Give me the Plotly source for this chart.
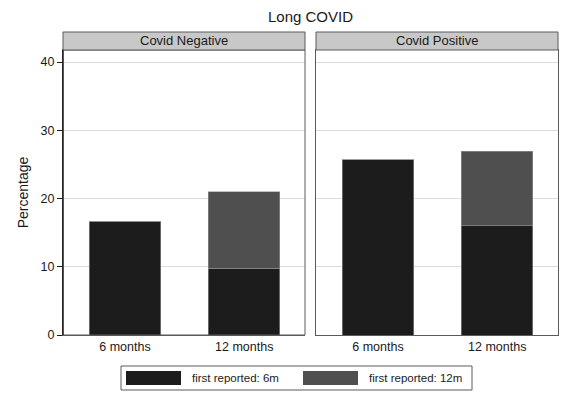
import plotly.graph_objects as go

categories = ["6 months", "12 months"]
panels = ["Covid Negative", "Covid Positive"]
series_names = ["first reported: 6m", "first reported: 12m"]
neg_first6 = [16.7, 9.8]
neg_first12 = [0, 11.2]
pos_first6 = [25.7, 16.0]
pos_first12 = [0, 10.9]
y_ticks = [0, 10, 20, 30, 40]
colors = ["#1c1c1c", "#4f4f4f"]

W, H = 565, 393
ml, mr, mt, mb = 63, 7, 50, 58
pw = W - ml - mr
ph = H - mt - mb

fig = go.Figure()
data = [(neg_first6, neg_first12), (pos_first6, pos_first12)]
for i, (s6, s12) in enumerate(data):
    xa = "x" if i == 0 else "x2"
    ya = "y" if i == 0 else "y2"
    for j, vals in enumerate([s6, s12]):
        fig.add_trace(go.Bar(
            x=categories, y=vals, name=series_names[j], xaxis=xa, yaxis=ya,
            marker=dict(color=colors[j], line=dict(color="#9a9a9a", width=0.6)),
            width=0.6, showlegend=False,
        ))

d1 = [0, (305 - ml) / pw]
d2 = [(316 - ml) / pw, 1]
font = "Liberation Sans, Arial, sans-serif"
axis_common = dict(showline=True, linecolor="#5a5a5a", linewidth=1, mirror=True)
fig.update_layout(
    width=W, height=H, barmode="stack",
    margin=dict(l=ml, r=mr, t=mt, b=mb),
    paper_bgcolor="white", plot_bgcolor="white",
    font=dict(family=font, color="#1a1a1a", size=12),
    title=dict(text="Long COVID", x=(ml + pw / 2) / W, xanchor="center", y=1 - 17 / H, yanchor="middle",
               font=dict(size=15, color="#1a1a1a")),
    xaxis=dict(domain=d1, range=[-0.52, 1.51], ticks="", tickfont=dict(size=12.5), **axis_common),
    xaxis2=dict(domain=d2, range=[-0.52, 1.51], ticks="", tickfont=dict(size=12.5), anchor="y2", **axis_common),
    yaxis=dict(range=[0, 41.76], tickvals=y_ticks, ticks="outside", ticklen=5, tickcolor="#1a1a1a",
               showgrid=True, gridcolor="#dcdcdc", gridwidth=1, zeroline=False,
               tickfont=dict(size=12.5), title=dict(text="Percentage", font=dict(size=14), standoff=8),
               showline=True, linecolor="#1a1a1a", linewidth=1, mirror=False),
    yaxis2=dict(range=[0, 41.76], tickvals=y_ticks, showticklabels=False, ticks="",
                showgrid=True, gridcolor="#dcdcdc", gridwidth=1, zeroline=False,
                anchor="x2", **axis_common),
)

fig.add_shape(type="rect", xref="paper", yref="paper", x0=d1[0], x1=d1[1], y0=0, y1=1,
              line=dict(color="#5a5a5a", width=1), fillcolor="rgba(0,0,0,0)", layer="above")
fig.add_shape(type="line", xref="paper", yref="paper", x0=0, x1=0, y0=0, y1=1,
              line=dict(color="#1a1a1a", width=1.2), layer="above")

strip_top = 1 + 18 / ph
for d, label in zip([d1, d2], panels):
    fig.add_shape(type="rect", xref="paper", yref="paper", x0=d[0], x1=d[1], y0=1, y1=strip_top,
                  line=dict(color="#5a5a5a", width=1), fillcolor="#c8c8c8")
    fig.add_annotation(xref="paper", yref="paper", x=(d[0] + d[1]) / 2, y=(1 + strip_top) / 2,
                       text=label, showarrow=False, font=dict(size=13, color="#1a1a1a"),
                       xanchor="center", yanchor="middle")

def px_x(v):
    return (v - ml) / pw

def px_y(v):
    return (H - mb - v) / ph

fig.add_shape(type="rect", xref="paper", yref="paper", x0=px_x(121), x1=px_x(472), y0=px_y(366), y1=px_y(390),
              line=dict(color="#5a5a5a", width=1), fillcolor="white")
sym_x = [126, 303]
txt_x = [190, 367]
for j in range(2):
    fig.add_shape(type="rect", xref="paper", yref="paper", x0=px_x(sym_x[j]), x1=px_x(sym_x[j] + 55),
                  y0=px_y(371), y1=px_y(385), line=dict(width=0), fillcolor=colors[j])
    fig.add_annotation(xref="paper", yref="paper", x=px_x(txt_x[j]), y=px_y(378), text=series_names[j],
                       showarrow=False, xanchor="left", yanchor="middle", font=dict(size=11.5, color="#1a1a1a"))

fig.write_html("out.html", config={"displayModeBar": False},
               post_script="document.body.style.margin='0';document.body.style.overflow='hidden';")
